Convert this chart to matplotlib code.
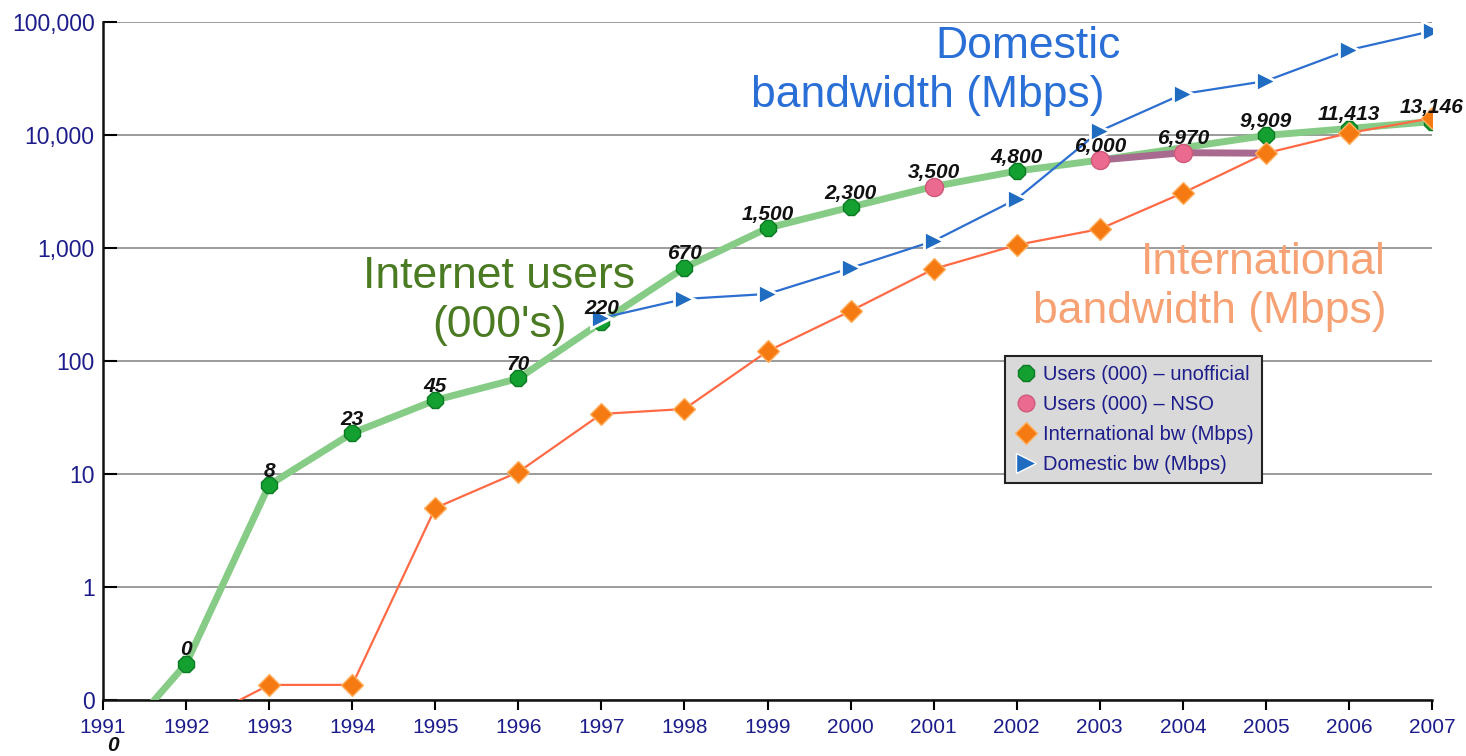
import numpy as np
import matplotlib
matplotlib.use("Agg")
import matplotlib.pyplot as plt
from matplotlib.lines import Line2D
from matplotlib.ticker import FixedLocator, NullLocator

plt.rcParams["font.family"] = ["Liberation Sans", "DejaVu Sans"]

# Internet users (000's), unofficial estimates
users_years = [1991, 1992, 1993, 1994, 1995, 1996, 1997, 1998, 1999, 2000, 2001, 2002, 2003, 2005, 2006, 2007]
users_vals = [0.03, 0.21, 8, 23, 45, 70, 220, 670, 1500, 2300, 3500, 4800, 6000, 9909, 11413, 13146]

# Internet users (000's), NSO figures (no value for 2002)
nso_years = [2001, 2002, 2003, 2004, 2005]
nso_vals = [3500, np.nan, 6000, 6970, 6900]

# International bandwidth (Mbps)
intl_years = [1992, 1993, 1994, 1995, 1996, 1997, 1998, 1999, 2000, 2001, 2002, 2003, 2004, 2005, 2006, 2007]
intl_vals = [0.057, 0.136, 0.136, 5.0, 10.4, 34, 37.6, 122, 277, 652, 1064, 1472, 3069, 6900, 10400, 14100]

# Domestic bandwidth (Mbps)
dom_years = [1997, 1998, 1999, 2000, 2001, 2002, 2003, 2004, 2005, 2006, 2007]
dom_vals = [240, 354, 392, 665, 1153, 2716, 10840, 23070, 30060, 56500, 83200]

# point labels
label_years = [1992, 1993, 1994, 1995, 1996, 1997, 1998, 1999, 2000, 2001, 2002, 2003, 2004, 2005, 2006, 2007]
label_vals = [0.21, 8, 23, 45, 70, 220, 670, 1500, 2300, 3500, 4800, 6000, 6970, 9909, 11413, 13146]
label_texts = ["0", "8", "23", "45", "70", "220", "670", "1,500", "2,300", "3,500", "4,800",
               "6,000", "6,970", "9,909", "11,413", "13,146"]

years = list(range(1991, 2008))
ytick_vals = [0.1, 1, 10, 100, 1000, 10000, 100000]
ytick_labels = ["0", "1", "10", "100", "1,000", "10,000", "100,000"]

navy = "#1c1c8a"

fig = plt.figure(figsize=(14.66, 7.56), dpi=100)
ax = fig.add_axes([0.0703, 0.0741, 0.9065, 0.8968])

ax.set_yscale("log")
ax.set_xlim(1991, 2007)
ax.set_ylim(0.1, 100000)

# users (unofficial)
ax.plot(users_years, users_vals, color="#86cc86", lw=5, solid_capstyle="round", zorder=3)
ax.plot(users_years[1:], users_vals[1:], ls="none", marker="8", ms=13,
        mfc="#14a030", mec="#0b7a22", mew=1, zorder=4)

# users (NSO)
ax.plot(nso_years, nso_vals, color="#a86a8e", lw=5, zorder=4)
ax.plot(nso_years, nso_vals, ls="none", marker="o", ms=13, mfc="#ea6a90",
        mec="#d05a7a", mew=1, markevery=[0, 2, 3], zorder=5)

# international bandwidth
ax.plot(intl_years, intl_vals, color="#ff6a45", lw=1.6, zorder=5)
ax.plot(intl_years[1:], intl_vals[1:], ls="none", marker="D", ms=11,
        mfc="#f57a12", mec="#ffb060", mew=1, zorder=6)

# domestic bandwidth
ax.plot(dom_years, dom_vals, color="#2d6fd0", lw=1.6, marker=">", ms=15,
        mfc="#1f6cc0", mec="white", mew=2, zorder=6)

for x, y, t in zip(label_years, label_vals, label_texts):
    ax.annotate(t, (x, y), xytext=(0, 6), textcoords="offset points",
                ha="center", va="baseline", fontsize=15, fontweight="bold",
                fontstyle="italic", color="#111111", zorder=10)
ax.annotate("0", (1991, 0.1), xytext=(7, -37), textcoords="offset points",
            ha="center", va="baseline", fontsize=15, fontweight="bold",
            fontstyle="italic", color="#111111", annotation_clip=False)

# big series captions
ax.text(0.696, 0.947, "Domestic", transform=ax.transAxes, ha="center",
        va="baseline", fontsize=32, color="#2a6fd6")
ax.text(0.6208, 0.8746, "bandwidth (Mbps)", transform=ax.transAxes, ha="center",
        va="baseline", fontsize=32, color="#2a6fd6")
ax.text(0.298, 0.607, "Internet users", transform=ax.transAxes, ha="center",
        va="baseline", fontsize=32, color="#4a7a22")
ax.text(0.298, 0.536, "(000's)", transform=ax.transAxes, ha="center",
        va="baseline", fontsize=32, color="#4a7a22")
ax.text(0.9654, 0.628, "International", transform=ax.transAxes, ha="right",
        va="baseline", fontsize=32, color="#f6a274")
ax.text(0.9654, 0.556, "bandwidth (Mbps)", transform=ax.transAxes, ha="right",
        va="baseline", fontsize=32, color="#f6a274")

# axes styling
ax.yaxis.set_major_locator(FixedLocator(ytick_vals))
ax.yaxis.set_minor_locator(NullLocator())
ax.set_yticklabels(ytick_labels)
ax.set_xticks(years)
ax.set_xticklabels([str(y) for y in years])
ax.tick_params(axis="y", direction="in", length=10, width=1.5, labelsize=16.5,
               labelcolor=navy, pad=6)
ax.tick_params(axis="x", direction="out", length=7, width=1.5, labelsize=15,
               labelcolor=navy, pad=6)
ax.grid(axis="y", color="#8a8a8a", lw=1.2)
ax.grid(axis="x", visible=False)
for side in ["top", "right"]:
    ax.spines[side].set_visible(False)
for side in ["left", "bottom"]:
    ax.spines[side].set_linewidth(1.8)
    ax.spines[side].set_color("#111111")

handles = [
    Line2D([], [], ls="none", marker="8", ms=13, mfc="#14a030", mec="#0b7a22"),
    Line2D([], [], ls="none", marker="o", ms=12, mfc="#ea6a90", mec="#d05a7a"),
    Line2D([], [], ls="none", marker="D", ms=11, mfc="#f57a12", mec="#ffb060"),
    Line2D([], [], ls="none", marker=">", ms=14, mfc="#1f6cc0", mec="white"),
]
names = ["Users (000) \u2013 unofficial", "Users (000) \u2013 NSO",
         "International bw (Mbps)", "Domestic bw (Mbps)"]
leg = ax.legend(handles, names, loc="upper left", bbox_to_anchor=(0.679, 0.508),
                fontsize=14.5, labelcolor=navy, frameon=True, fancybox=False,
                facecolor="#d9d9d9", edgecolor="#222222", framealpha=1,
                handletextpad=0.3, handlelength=1.1, borderpad=0.45,
                labelspacing=0.55, borderaxespad=0)
leg.get_frame().set_linewidth(1.5)
leg.set_zorder(20)

fig.savefig("out.png", dpi=100)
